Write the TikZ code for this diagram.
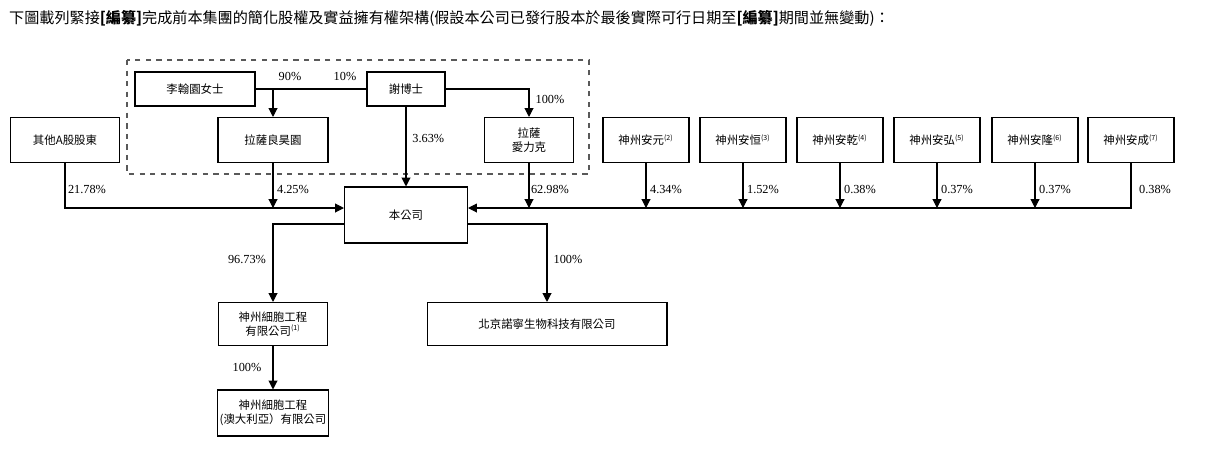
\documentclass[tikz,border=0pt]{standalone}
\usepackage{fontspec}
\setmainfont{Liberation Serif}
\newfontfamily\cjk{Noto Sans CJK TC}
\usetikzlibrary{arrows.meta}
\tikzset{
	box/.style={draw,line width=0.6pt,inner sep=1pt,align=center,font=\cjk\fontsize{6.5}{8}\selectfont},
	pct/.style={font=\fontsize{7}{8}\selectfont},
	own/.style={line width=0.6pt,-{Triangle[length=5pt,width=5pt]}}
}
\begin{document}
\begin{tikzpicture}[x=0.02cm,y=-0.02cm]
	\useasboundingbox (0,0) rectangle (1214,454);
	%heading
	\node[anchor=west,font=\cjk\fontsize{8.6}{10}\selectfont] (title) at (3,18)
	{下圖載列緊接\textbf{[編纂]}完成前本集團的簡化股權及實益擁有權架構(假設本公司已發行股本於最後實際可行日期至\textbf{[編纂]}期間並無變動)：};

	%group in dashed frame
	\draw[line width=0.7pt,dashed,gray!70!black] (127,60) rectangle (589,174);
	\node[box,minimum width=2.4cm,minimum height=0.68cm] (li) at (195,89) {李翰園女士};
	\node[box,minimum width=1.56cm,minimum height=0.68cm] (xie) at (406,89) {謝博士};
	\node[box,minimum width=2.2cm,minimum height=0.9cm] (lhy) at (273,140) {拉薩良昊園};
	\node[box,minimum width=1.78cm,minimum height=0.9cm] (alk) at (529,140) {拉薩\\愛力克};
	\node[box,minimum width=2.18cm,minimum height=0.9cm] (other) at (65,140) {其他A股股東};

	%company
	\node[box,minimum width=2.46cm,minimum height=1.12cm] (co) at (406,215) {本公司};

	%right side holders
	\foreach \x/\name/\n in {646/安元/2,743/安恒/3,840/安乾/4,937/安弘/5,1035/安隆/6,1131/安成/7}
		\node[box,minimum width=1.72cm,minimum height=0.9cm] (sz\n) at (\x,140) {神州\name\textsuperscript{\fontsize{4}{4}\selectfont(\n)}};

	%subsidiaries
	\node[box,minimum width=2.18cm,minimum height=0.86cm] (cell) at (273,324) {神州細胞工程\\有限公司\textsuperscript{\fontsize{4}{4}\selectfont(1)}};
	\node[box,minimum width=4.8cm,minimum height=0.86cm] (bj) at (547,324) {北京諾寧生物科技有限公司};
	\node[box,minimum width=2.18cm,minimum height=0.92cm] (au) at (273,413) {神州細胞工程\\(澳大利亞）有限公司};

	%top links
	\coordinate (j1) at (273,89);
	\draw[line width=0.6pt] (li.east) -- (xie.west);
	\draw[own] (j1) -- (lhy.north);
	\draw[own] (xie.east) -| (alk.north);
	\node[pct] (p90) at (290,76) {90\%};
	\node[pct] (p10) at (345,76) {10\%};
	\node[pct] (p100a) at (550,99) {100\%};
	\draw[own] (xie.south) -- node[pct,right,pos=0.4] {3.63\%} (co.north);

	%links into company
	\coordinate (bus) at (273,208);
	\draw[own] (other.south) |- (co.west |- bus);
	\draw[own] (lhy.south) -- (bus);
	\draw[own] (sz7.south) |- (co.east |- bus);
	\draw[own] (alk.south) -- (alk.south |- bus);
	\foreach \n in {2,3,4,5,6}
		\draw[own] (sz\n.south) -- (sz\n.south |- bus);
	\node[pct] at (87,189) {21.78\%};
	\node[pct] at (293,189) {4.25\%};
	\node[pct] at (550,189) {62.98\%};
	\node[pct] at (666,189) {4.34\%};
	\node[pct] at (763,189) {1.52\%};
	\node[pct] at (860,189) {0.38\%};
	\node[pct] at (957,189) {0.37\%};
	\node[pct] at (1055,189) {0.37\%};
	\node[pct] at (1155,189) {0.38\%};

	%links down
	\coordinate (low) at (0,224);
	\draw[own] (co.west |- low) -| (cell.north);
	\draw[own] (co.east |- low) -| (bj.north);
	\draw[own] (cell.south) -- (au.north);
	\node[pct] at (247,259) {96.73\%};
	\node[pct] at (568,259) {100\%};
	\node[pct] at (247,367) {100\%};
\end{tikzpicture}
\end{document}
